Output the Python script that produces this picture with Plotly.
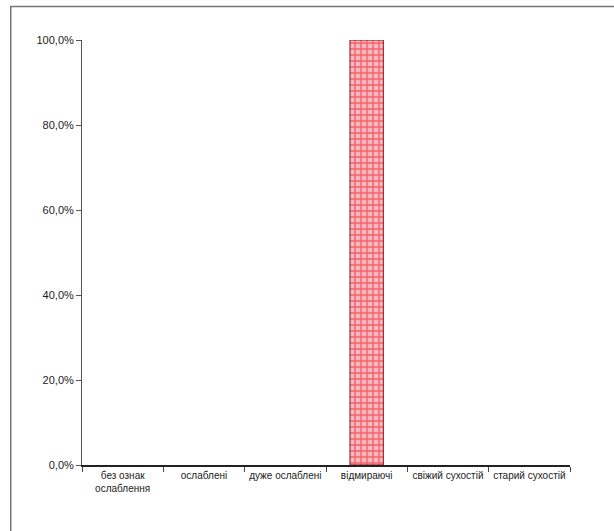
import plotly.graph_objects as go

categories = ["без ознак<br>ослаблення", "ослаблені", "дуже ослаблені", "відмираючі", "свіжий сухостій", "старий сухостій"]
values = [0.0, 0.0, 0.0, 1.0, 0.0, 0.0]
y_ticks = [0.0, 0.2, 0.4, 0.6, 0.8, 1.0]

font_family = "Liberation Sans, Arial, sans-serif"

fig = go.Figure()
fig.add_trace(go.Bar(
    x=categories,
    y=values,
    width=0.41,
    marker=dict(
        color="#f7c4c8",
        line=dict(color="#8b1010", width=[1 if v > 0 else 0 for v in values]),
        pattern=dict(shape="+", fgcolor="#ee0a14", bgcolor="#f8b8bf", size=6, solidity=0.4),
    ),
    showlegend=False,
))

fig.update_layout(
    width=614,
    height=531,
    margin=dict(l=82, r=44, t=40, b=66),
    paper_bgcolor="white",
    plot_bgcolor="white",
    separators=",.",
    font=dict(family=font_family, size=11, color="#222222"),
    shapes=[dict(type="rect", xref="paper", yref="paper",
                 x0=-0.146, x1=1.2, y0=-0.3, y1=1.079,
                 line=dict(color="#777777", width=1.5), fillcolor="rgba(0,0,0,0)", layer="below")],
)
fig.update_xaxes(
    showline=True, linecolor="#222222", linewidth=1.5,
    ticks="outside", tickson="boundaries", ticklen=5, tickcolor="#444444",
    showgrid=False, tickangle=0, tickfont=dict(size=10, family=font_family),
)
fig.update_yaxes(
    range=[0, 1.0], tickvals=y_ticks, tickformat=".1%",
    showline=True, linecolor="#555555", linewidth=1,
    ticks="outside", ticklen=5, tickcolor="#555555",
    showgrid=False, zeroline=False,
    tickfont=dict(size=11, family=font_family),
)

fig.write_html("out.html", config={"displayModeBar": False},
               post_script="document.body.style.margin='0px';")
